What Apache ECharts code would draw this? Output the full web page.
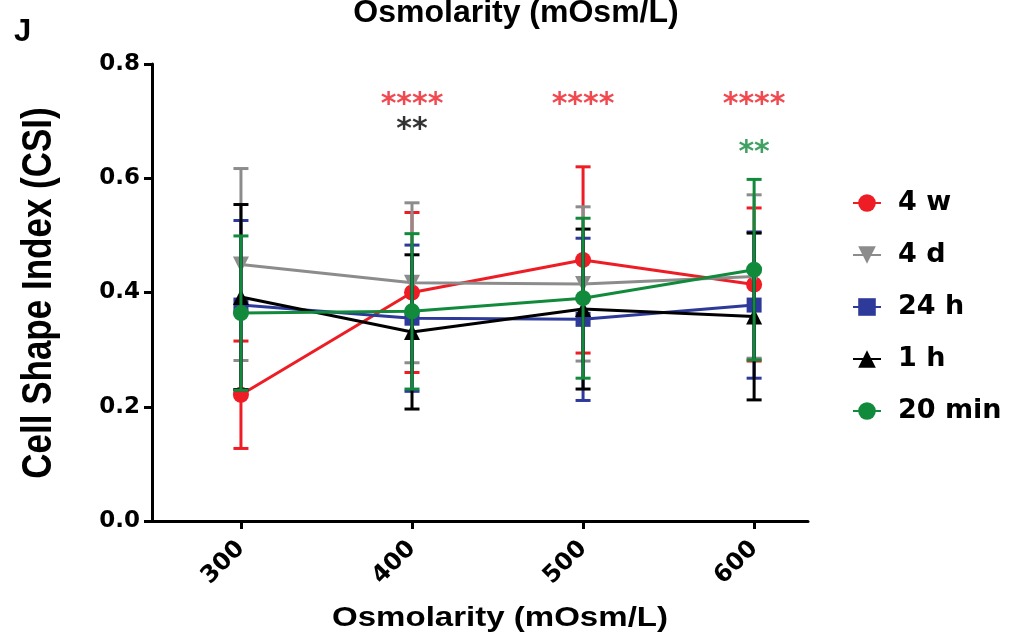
<!DOCTYPE html>
<html>
<head>
<meta charset="utf-8">
<script src="https://cdn.jsdelivr.net/npm/echarts@6/dist/echarts.min.js"></script>
<style>
html,body{margin:0;padding:0;background:#fff;}
#chart{width:1019px;height:644px;}
</style>
</head>
<body>
<div id="chart"></div>
<script>
// ---- data ----
const categories = [300, 400, 500, 600];
const seriesNames = ['4 w', '4 d', '24 h', '1 h', '20 min'];
const mean4w  = [0.221, 0.400, 0.457, 0.414];
const sd4w    = [0.094, 0.140, 0.163, 0.134];
const mean4d  = [0.449, 0.417, 0.415, 0.428];
const sd4d    = [0.168, 0.140, 0.135, 0.143];
const mean24h = [0.378, 0.355, 0.353, 0.378];
const sd24h   = [0.148, 0.128, 0.142, 0.128];
const mean1h  = [0.392, 0.331, 0.371, 0.358];
const sd1h    = [0.162, 0.135, 0.140, 0.146];
const mean20m = [0.364, 0.367, 0.390, 0.440];
const sd20m   = [0.135, 0.136, 0.140, 0.158];
const yTickLabels = ['0.0', '0.2', '0.4', '0.6', '0.8'];
const sigCategory = [400, 500, 600, 400, 600];
const sigText     = ['****', '****', '****', '**', '**'];
const sigLevel    = [0.727, 0.727, 0.727, 0.684, 0.643];
const sigSeries   = [0, 0, 0, 3, 4];

const means = [mean4w, mean4d, mean24h, mean1h, mean20m];
const sds = [sd4w, sd4d, sd24h, sd1h, sd20m];
const colors = ['#ee1c24', '#8c8c8c', '#2e3a9a', '#000000', '#128a3c'];
const symbols = ['circle', 'triangle', 'rect', 'triangle', 'circle'];
const rotations = [0, 180, 0, 0, 0];

const series = [];
seriesNames.forEach((name, k) => {
  series.push({
    type: 'custom',
    name: name + ' SD',
    z: 2 + 2 * k,
    clip: false,
    silent: true,
    data: categories.map((c, i) => [c, means[k][i], sds[k][i]]),
    encode: { x: 0, y: 1 },
    renderItem: function (params, api) {
      const x = api.value(0), m = api.value(1), s = api.value(2);
      const t = api.coord([x, m + s]);
      const b = api.coord([x, m - s]);
      const hw = 7.5;
      const st = { stroke: colors[k], lineWidth: 3 };
      return {
        type: 'group',
        children: [
          { type: 'line', shape: { x1: t[0], y1: t[1], x2: b[0], y2: b[1] }, style: st },
          { type: 'line', shape: { x1: t[0] - hw, y1: t[1], x2: t[0] + hw, y2: t[1] }, style: st },
          { type: 'line', shape: { x1: b[0] - hw, y1: b[1], x2: b[0] + hw, y2: b[1] }, style: st }
        ]
      };
    }
  });
  series.push({
    type: 'line',
    name: name,
    z: 3 + 2 * k,
    data: categories.map((c, i) => [c, means[k][i]]),
    symbol: symbols[k],
    symbolRotate: rotations[k],
    symbolSize: k === 2 ? 15 : 16,
    showSymbol: true,
    lineStyle: { color: colors[k], width: 3 },
    itemStyle: { color: colors[k] },
    clip: false,
    animation: false
  });
});

series.push({
  type: 'scatter',
  name: 'sig',
  z: 30,
  symbolSize: 0,
  silent: true,
  data: sigCategory.map((c, i) => ({
    value: [c, sigLevel[i]],
    label: { show: true, position: 'inside', formatter: sigText[i], color: colors[sigSeries[i]] }
  })),
  label: { fontFamily: 'DejaVu Sans', fontWeight: 'bold', fontSize: 30 }
});

const chart = echarts.init(document.getElementById('chart'), null, { renderer: 'canvas' });
chart.setOption({
  animation: false,
  backgroundColor: '#ffffff',
  grid: { left: 152, right: 211, top: 64, bottom: 123 },
  xAxis: {
    type: 'value',
    min: 248,
    max: 631.5,
    axisLine: { show: true, lineStyle: { color: '#000', width: 3 } },
    axisTick: { show: true, length: 8, lineStyle: { color: '#000', width: 3 }, customValues: categories },
    axisLabel: {
      show: true, customValues: categories, rotate: 45, margin: 24,
      fontFamily: 'DejaVu Sans', fontWeight: 'bold', fontSize: 24, color: '#000'
    },
    splitLine: { show: false }
  },
  yAxis: {
    type: 'value',
    min: 0, max: 0.8, interval: 0.2,
    axisLine: { show: true, lineStyle: { color: '#000', width: 3 } },
    axisTick: { show: true, length: 8, lineStyle: { color: '#000', width: 3 } },
    axisLabel: {
      margin: 12,
      fontFamily: 'DejaVu Sans', fontWeight: 'bold', fontSize: 23, color: '#000',
      formatter: function (v) { return yTickLabels[Math.round(v / 0.2)]; }
    },
    splitLine: { show: false }
  },
  legend: {
    data: seriesNames,
    orient: 'vertical',
    left: 847,
    top: 184,
    itemWidth: 28,
    itemHeight: 22,
    itemGap: 24,
    textStyle: {
      fontFamily: 'DejaVu Sans', fontWeight: 'bold', fontSize: 27, color: '#000',
      lineHeight: 28, padding: [0, 0, 0, 12]
    }
  },
  graphic: [
    { type: 'text', x: 14, y: 32, style: { text: 'J', font: 'bold 31px "Liberation Sans"', fill: '#000', textAlign: 'left', textVerticalAlign: 'middle' } },
    { type: 'text', x: 516, y: 13, style: { text: 'Osmolarity (mOsm/L)', font: 'bold 32px "Liberation Sans"', fill: '#000', textAlign: 'center', textVerticalAlign: 'middle' } },
    { type: 'text', x: 500, y: 618, scaleX: 1.18, style: { text: 'Osmolarity (mOsm/L)', font: 'bold 28px "Liberation Sans"', fill: '#000', textAlign: 'center', textVerticalAlign: 'middle' } },
    { type: 'text', x: 39, y: 293, rotation: Math.PI / 2, scaleY: 1.2, style: { text: 'Cell Shape Index (CSI)', font: 'bold 35px "Liberation Sans"', fill: '#000', textAlign: 'center', textVerticalAlign: 'middle' } }
  ],
  series: series
});
</script>
</body>
</html>
